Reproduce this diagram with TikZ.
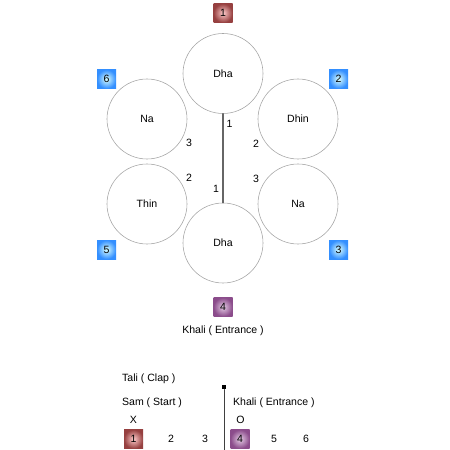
\documentclass[tikz,border=0pt]{standalone}
\usepackage{fontspec}
\setmainfont{Liberation Sans}
\begin{document}
\begin{tikzpicture}[
			x=0.03cm, y=-0.03cm,
			line join=round,
			line cap=round,
			font=\fontsize{9}{10}\selectfont,
			bol/.style={circle, draw=black!35, line width=0.5pt, minimum size=2.4cm, inner sep=0pt},
			o/.style={minimum size=0.57cm, inner sep=0pt, shading=radial},
			sam/.style={o, inner color=red!20!white, outer color=red!45!black!75},
			bhari/.style={o, inner color=cyan!15!white, outer color=blue!55!cyan!80},
			khali/.style={o, inner color=violet!20!white, outer color=violet!70!black!70}
			]
			\useasboundingbox (0,0) rectangle (450,450);
			% chakra of the bols
			\node[sam] (s1) at (223,13) {1};
			\node[bol] (dha1) at (223,73.5) {Dha};
			\node[bhari] (s6) at (106.5,79) {6};
			\node[bhari] (s2) at (338.5,79) {2};
			\node[bol] (na1) at (147,119) {Na};
			\node[bol] (dhin) at (298,119) {Dhin};
			\node[bol] (thin) at (147,204) {Thin};
			\node[bol] (na2) at (298,204) {Na};
			\node[bol] (dha2) at (223,243) {Dha};
			\node[bhari] (s5) at (106.5,249.5) {5};
			\node[bhari] (s3) at (338.5,249.5) {3};
			\node[khali] (s4) at (223,307) {4};
			\node (khali) at (223,331) {Khali ( Entrance )};
			\draw[black!60, line width=1.1pt] (dha1) -- (dha2);
			\node (n1a) at (229.5,124) {1};
			\node (n3a) at (189,143) {3};
			\node (n2a) at (256,144) {2};
			\node (n2b) at (189,178) {2};
			\node (n3b) at (256,179) {3};
			\node (n1b) at (216,189) {1};
			% legend
			\node[anchor=west] (tali) at (118,379) {Tali ( Clap )};
			\node[fill=black, minimum size=4pt, inner sep=0pt] (vibhag) at (224,387) {};
			\coordinate (ende) at (224,450);
			\draw[black!75, line width=0.6pt] (vibhag) -- (ende);
			\node[anchor=west] (start) at (118,403) {Sam ( Start )};
			\node[anchor=west] (entr) at (229,403) {Khali ( Entrance )};
			\node (x) at (133.5,419.5) {X};
			\node (oo) at (240.5,419.5) {O};
			\node[sam] (t1) at (133.5,439) {1};
			\node (t2) at (171,439) {2};
			\node (t3) at (205,439) {3};
			\node[khali] (t4) at (240,439) {4};
			\node (t5) at (274,439) {5};
			\node (t6) at (306,439) {6};
		\end{tikzpicture}
\end{document}
